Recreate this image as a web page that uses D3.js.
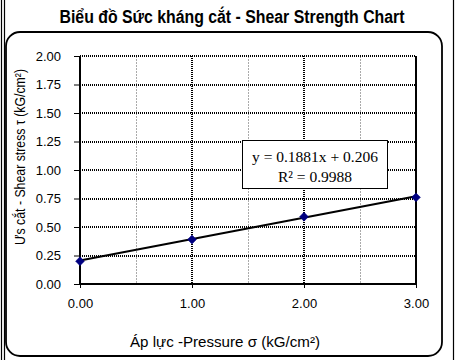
<!DOCTYPE html>
<html><head><meta charset="utf-8">
<script src="https://cdn.jsdelivr.net/npm/d3@7"></script>
<style>body{margin:0;background:#fff}svg{display:block}</style>
</head><body>
<script>
const pressure = [0, 1, 2, 3];
const shear = [0.20, 0.39, 0.59, 0.76];
const xTicks = [0, 1, 2, 3];
const xMinor = [0.5, 1.5, 2.5];
const yTicks = [0, 0.25, 0.5, 0.75, 1.0, 1.25, 1.5, 1.75, 2.0];
const trend = {slope: 0.1881, intercept: 0.206, r2: 0.9988};
const title = "Biểu đồ Sức kháng cắt - Shear Strength Chart";
const xTitle = "Áp lực -Pressure σ (kG/cm²)";
const yTitle = "Ưs cắt - Shear stress τ (kG/cm²)";

const W = 458, H = 360;
const svg = d3.select("body").append("svg").attr("width", W).attr("height", H);

// outer frame lines
svg.append("line").attr("x1",1.5).attr("x2",1.5).attr("y1",0).attr("y2",H).attr("stroke","#000").attr("stroke-width",1.2);
svg.append("line").attr("x1",4.5).attr("x2",4.5).attr("y1",0).attr("y2",H).attr("stroke","#000").attr("stroke-width",1.2);
svg.append("line").attr("x1",453.5).attr("x2",453.5).attr("y1",0).attr("y2",H).attr("stroke","#000").attr("stroke-width",1.2);

// rounded chart area
svg.append("rect").attr("x",6).attr("y",32).attr("width",436).attr("height",324)
  .attr("rx",14).attr("ry",14).attr("fill","#fff").attr("stroke","#000").attr("stroke-width",1.8);

// title
svg.append("text").attr("x",232).attr("y",23).attr("text-anchor","middle")
  .attr("font-family","'Liberation Sans Narrow', 'Liberation Sans', Arial, sans-serif")
  .attr("font-weight","bold").attr("font-size",17.5)
  .attr("textLength",345).attr("lengthAdjust","spacingAndGlyphs")
  .text(title);

const x = d3.scaleLinear().domain([0,3]).range([80,416]);
const y = d3.scaleLinear().domain([0,2]).range([284,56]);

// minor vertical grid
svg.append("g").attr("shape-rendering","crispEdges").selectAll("line").data(xMinor).join("line")
  .attr("x1",d=>x(d)).attr("x2",d=>x(d)).attr("y1",y(2)).attr("y2",y(0))
  .attr("stroke","#aaa").attr("stroke-width",1).attr("stroke-dasharray","2,1");
// major vertical grid
svg.append("g").attr("shape-rendering","crispEdges").selectAll("line").data([1,2]).join("line")
  .attr("x1",d=>x(d)).attr("x2",d=>x(d)).attr("y1",y(2)).attr("y2",y(0))
  .attr("stroke","#000").attr("stroke-width",2).attr("stroke-dasharray","1,1");
// horizontal grid
svg.append("g").attr("shape-rendering","crispEdges").selectAll("line").data(yTicks.filter(d=>d>0)).join("line")
  .attr("x1",x(0)).attr("x2",x(3)).attr("y1",d=>y(d)).attr("y2",d=>y(d))
  .attr("stroke","#000").attr("stroke-width",2).attr("stroke-dasharray","1,1");

// axes
const fontTick = "'Liberation Sans', Arial, sans-serif";
const yAxis = svg.append("g").attr("transform",`translate(${x(0)},0)`)
  .call(d3.axisLeft(y).tickValues(yTicks).tickFormat(d3.format(".2f")).tickSize(6).tickPadding(13));
const xAxis = svg.append("g").attr("transform",`translate(0,${y(0)})`)
  .call(d3.axisBottom(x).tickValues(xTicks).tickFormat(d3.format(".2f")).tickSize(4).tickPadding(11));
[yAxis,xAxis].forEach(g=>{
  g.select(".domain").remove();
  g.selectAll(".tick line").attr("stroke","#000").attr("stroke-width",1);
  g.selectAll(".tick text").attr("font-family",fontTick).attr("font-size",13).attr("fill","#000");
});
// axis lines (left, bottom, right)
svg.append("line").attr("x1",x(0)).attr("x2",x(0)).attr("y1",y(2)).attr("y2",y(0)+1).attr("stroke","#000").attr("stroke-width",2);
svg.append("line").attr("x1",x(0)).attr("x2",x(3)).attr("y1",y(0)).attr("y2",y(0)).attr("stroke","#000").attr("stroke-width",2);
svg.append("line").attr("x1",x(3)).attr("x2",x(3)).attr("y1",y(2)).attr("y2",y(0)+1).attr("stroke","#000").attr("stroke-width",2);

// trendline
svg.append("line")
  .attr("x1",x(0)).attr("y1",y(trend.intercept))
  .attr("x2",x(3)).attr("y2",y(trend.intercept+3*trend.slope))
  .attr("stroke","#000").attr("stroke-width",2);

// markers
svg.append("g").selectAll("path").data(pressure.map((p,i)=>[p,shear[i]])).join("path")
  .attr("d",d3.symbol().type(d3.symbolDiamond2).size(50))
  .attr("transform",d=>`translate(${x(d[0])},${y(d[1])})`)
  .attr("fill","#000080").attr("stroke","#000080").attr("stroke-width",0.5);

// equation box
svg.append("rect").attr("x",242.5).attr("y",140.5).attr("width",145).attr("height",48)
  .attr("fill","#fff").attr("stroke","#000").attr("stroke-width",1);
svg.append("text").attr("x",315).attr("y",162).attr("text-anchor","middle")
  .attr("font-family","'Liberation Serif', 'Times New Roman', serif").attr("font-size",15.5)
  .text(`y = ${trend.slope}x + ${trend.intercept}`);
svg.append("text").attr("x",315).attr("y",182).attr("text-anchor","middle")
  .attr("font-family","'Liberation Serif', 'Times New Roman', serif").attr("font-size",15.5)
  .text(`R² = ${trend.r2}`);

// axis titles
svg.append("text").attr("x",225).attr("y",347).attr("text-anchor","middle")
  .attr("font-family","'Liberation Sans Narrow', 'Liberation Sans', Arial, sans-serif").attr("font-size",14.5)
  .attr("textLength",190).attr("lengthAdjust","spacingAndGlyphs")
  .text(xTitle);
svg.append("text").attr("transform","translate(25,157) rotate(-90)").attr("text-anchor","middle")
  .attr("font-family","'Liberation Sans Narrow', 'Liberation Sans', Arial, sans-serif").attr("font-size",14)
  .attr("textLength",176).attr("lengthAdjust","spacingAndGlyphs")
  .text(yTitle);
</script>
</body></html>
